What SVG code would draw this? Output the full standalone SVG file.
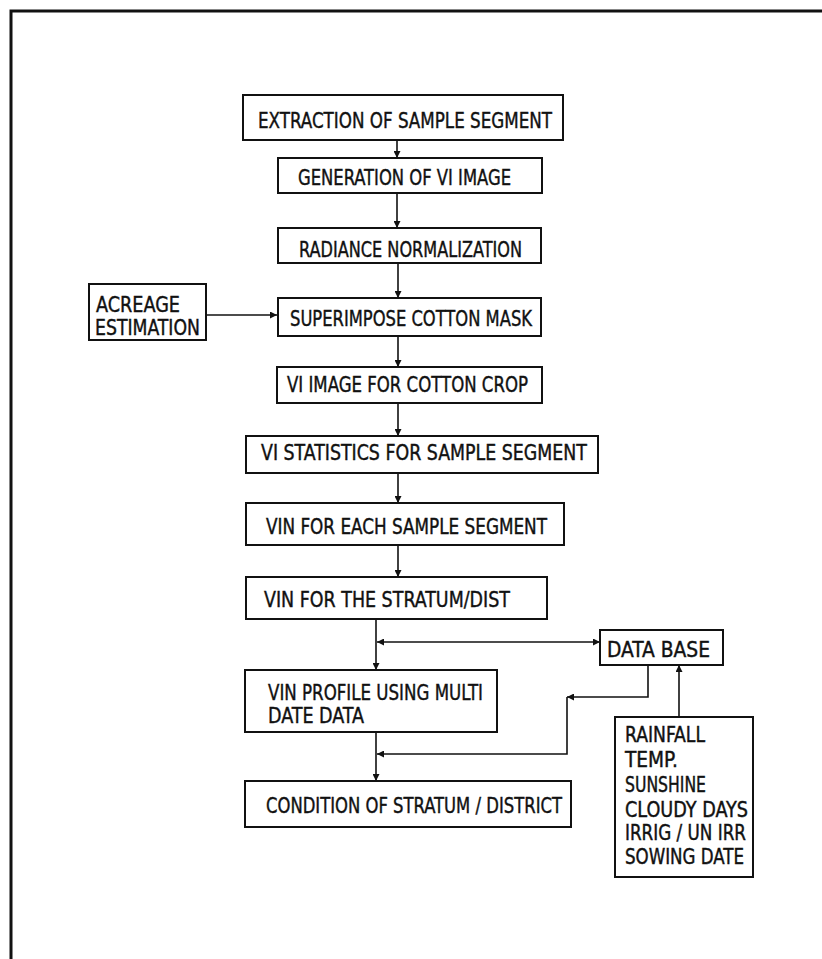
<svg xmlns="http://www.w3.org/2000/svg" width="822" height="959" viewBox="0 0 822 959">
<style>
.box{fill:#fff;stroke:#111;stroke-width:2}
.t{font-family:"DejaVu Sans Condensed","DejaVu Sans","Liberation Sans",sans-serif;font-size:22px;fill:#111;stroke:#111;stroke-width:0.4}
.s{font-size:20.5px}
.c{fill:none;stroke:#111;stroke-width:1.6}
.frame{fill:none;stroke:#111;stroke-width:3}
</style>
<defs>
<marker id="ah" viewBox="0 0 10 10" refX="10" refY="5" markerWidth="10" markerHeight="7" markerUnits="userSpaceOnUse" orient="auto-start-reverse">
<path d="M0,0 L10,5 L0,10 z" fill="#111"/>
</marker>
</defs>
<rect width="822" height="959" fill="#fff"/>
<path class="frame" d="M11,959 V11 H822"/>

<g id="connectors">
<line class="c" x1="397" y1="140" x2="397" y2="158" marker-end="url(#ah)"/>
<line class="c" x1="397" y1="193" x2="397" y2="228" marker-end="url(#ah)"/>
<line class="c" x1="398" y1="263" x2="398" y2="298" marker-end="url(#ah)"/>
<line class="c" x1="206" y1="315" x2="277" y2="315" marker-end="url(#ah)"/>
<line class="c" x1="398" y1="336" x2="398" y2="367" marker-end="url(#ah)"/>
<line class="c" x1="398" y1="403" x2="398" y2="436" marker-end="url(#ah)"/>
<line class="c" x1="398" y1="473" x2="398" y2="503" marker-end="url(#ah)"/>
<line class="c" x1="398" y1="545" x2="398" y2="577" marker-end="url(#ah)"/>
<line class="c" x1="376" y1="619" x2="376" y2="670" marker-end="url(#ah)"/>
<line class="c" x1="377" y1="642" x2="600" y2="642" marker-start="url(#ah)" marker-end="url(#ah)"/>
<polyline class="c" points="648,665 648,697 567,697" marker-end="url(#ah)"/>
<polyline class="c" points="567,697 567,754 377,754" marker-end="url(#ah)"/>
<line class="c" x1="376" y1="732" x2="376" y2="781" marker-end="url(#ah)"/>
<line class="c" x1="679" y1="717" x2="679" y2="665" marker-end="url(#ah)"/>
</g>

<g id="extraction">
<rect class="box" x="243" y="95" width="320" height="45"/>
<text class="t" x="258" y="128" textLength="294" lengthAdjust="spacingAndGlyphs">EXTRACTION OF SAMPLE SEGMENT</text>
</g>
<g id="generation">
<rect class="box" x="278" y="158" width="264" height="35"/>
<text class="t" x="298" y="185" textLength="213" lengthAdjust="spacingAndGlyphs">GENERATION OF VI IMAGE</text>
</g>
<g id="radiance">
<rect class="box" x="278" y="228" width="263" height="35"/>
<text class="t" x="299" y="257" textLength="223" lengthAdjust="spacingAndGlyphs">RADIANCE NORMALIZATION</text>
</g>
<g id="acreage">
<rect class="box" x="89" y="284" width="117" height="56"/>
<text class="t" x="96" y="312" textLength="84" lengthAdjust="spacingAndGlyphs">ACREAGE</text>
<text class="t" x="95" y="335" textLength="105" lengthAdjust="spacingAndGlyphs">ESTIMATION</text>
</g>
<g id="superimpose">
<rect class="box" x="278" y="298" width="263" height="38"/>
<text class="t" x="290" y="326" textLength="242" lengthAdjust="spacingAndGlyphs">SUPERIMPOSE COTTON MASK</text>
</g>
<g id="viimage">
<rect class="box" x="277" y="367" width="265" height="36"/>
<text class="t" x="287" y="392" textLength="241" lengthAdjust="spacingAndGlyphs">VI IMAGE FOR COTTON CROP</text>
</g>
<g id="vistats">
<rect class="box" x="246" y="436" width="352" height="37"/>
<text class="t" x="261" y="460" textLength="326" lengthAdjust="spacingAndGlyphs">VI STATISTICS FOR SAMPLE SEGMENT</text>
</g>
<g id="vineach">
<rect class="box" x="246" y="503" width="318" height="42"/>
<text class="t" x="266" y="534" textLength="281" lengthAdjust="spacingAndGlyphs">VIN FOR EACH SAMPLE SEGMENT</text>
</g>
<g id="vinstratum">
<rect class="box" x="246" y="577" width="301" height="42"/>
<text class="t" x="264" y="607" textLength="246" lengthAdjust="spacingAndGlyphs">VIN FOR THE STRATUM/DIST</text>
</g>
<g id="vinprofile">
<rect class="box" x="245" y="670" width="252" height="62"/>
<text class="t" x="268" y="700" textLength="215" lengthAdjust="spacingAndGlyphs">VIN PROFILE USING MULTI</text>
<text class="t" x="268" y="723" textLength="96" lengthAdjust="spacingAndGlyphs">DATE DATA</text>
</g>
<g id="condition">
<rect class="box" x="245" y="781" width="326" height="46"/>
<text class="t" x="266" y="813" textLength="296" lengthAdjust="spacingAndGlyphs">CONDITION OF STRATUM / DISTRICT</text>
</g>
<g id="database">
<rect class="box" x="600" y="630" width="123" height="35"/>
<text class="t" x="607" y="657" textLength="103" lengthAdjust="spacingAndGlyphs">DATA BASE</text>
</g>
<g id="factors">
<rect class="box" x="615" y="717" width="138" height="160"/>
<text class="t s" x="625" y="742" textLength="80" lengthAdjust="spacingAndGlyphs">RAINFALL</text>
<text class="t s" x="625" y="767" textLength="53" lengthAdjust="spacingAndGlyphs">TEMP.</text>
<text class="t s" x="625" y="792" textLength="81" lengthAdjust="spacingAndGlyphs">SUNSHINE</text>
<text class="t s" x="625" y="817" textLength="123" lengthAdjust="spacingAndGlyphs">CLOUDY DAYS</text>
<text class="t s" x="625" y="840" textLength="121" lengthAdjust="spacingAndGlyphs">IRRIG / UN IRR</text>
<text class="t s" x="625" y="864" textLength="119" lengthAdjust="spacingAndGlyphs">SOWING DATE</text>
</g>
</svg>
